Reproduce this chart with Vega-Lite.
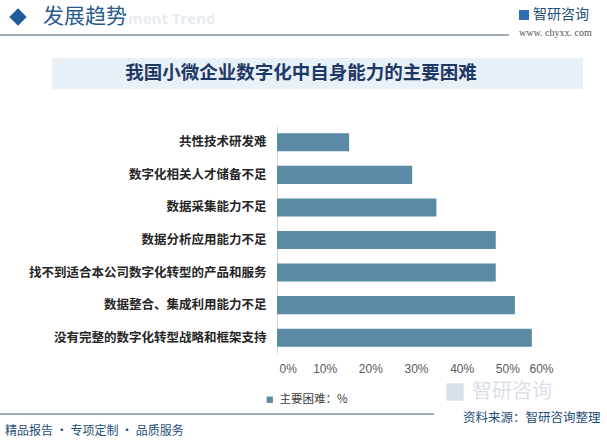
{
  "$schema": "https://vega.github.io/schema/vega-lite/v6.json",
  "width": 274,
  "height": 228,
  "autosize": {"type": "none"},
  "padding": {"left": 277, "top": 126, "right": 56, "bottom": 87},
  "background": "white",
  "config": {"view": {"stroke": null}, "font": "Noto Sans CJK SC"},
  "datasets": {
    "main": [
      {"item": "共性技术研发难", "value": 15.8, "series": "主要困难：%"},
      {"item": "数字化相关人才储备不足", "value": 29.6, "series": "主要困难：%"},
      {"item": "数据采集能力不足", "value": 34.9, "series": "主要困难：%"},
      {"item": "数据分析应用能力不足", "value": 47.9, "series": "主要困难：%"},
      {"item": "找不到适合本公司数字化转型的产品和服务", "value": 47.9, "series": "主要困难：%"},
      {"item": "数据整合、集成利用能力不足", "value": 52.1, "series": "主要困难：%"},
      {"item": "没有完整的数字化转型战略和框架支持", "value": 55.8, "series": "主要困难：%"}
    ]
  },
  "layer": [
    {
      "data": {"values": [{}]},
      "mark": {"type": "rect", "color": "#E8F0F8"},
      "encoding": {"x": {"value": -225}, "x2": {"value": 306}, "y": {"value": -68}, "y2": {"value": -37}}
    },
    {
      "data": {"values": [{}]},
      "mark": {"type": "text", "text": "我国小微企业数字化中自身能力的主要困难", "fontSize": 18.5, "fontWeight": "bold", "color": "#1F3864", "align": "center", "baseline": "middle"},
      "encoding": {"x": {"value": 24}, "y": {"value": -53}}
    },
    {
      "data": {"values": [{}]},
      "mark": {"type": "point", "shape": "diamond", "filled": true, "size": 300, "color": "#1F5C99", "opacity": 1},
      "encoding": {"x": {"value": -259}, "y": {"value": -109}}
    },
    {
      "data": {"values": [{}]},
      "mark": {"type": "text", "text": "ment Trend", "fontSize": 15, "fontWeight": "bold", "color": "#E8ECF1", "align": "left", "baseline": "middle", "font": "Open Sans"},
      "encoding": {"x": {"value": -149}, "y": {"value": -107}}
    },
    {
      "data": {"values": [{}]},
      "mark": {"type": "text", "text": "发展趋势", "fontSize": 21, "color": "#2A5B8C", "align": "left", "baseline": "middle"},
      "encoding": {"x": {"value": -234}, "y": {"value": -109}}
    },
    {
      "data": {"values": [{}]},
      "mark": {"type": "rule", "color": "#7E90A2", "strokeWidth": 1.5},
      "encoding": {"x": {"value": -277}, "x2": {"value": 232}, "y": {"value": -91}}
    },
    {
      "data": {"values": [{}]},
      "mark": {"type": "point", "shape": "square", "filled": true, "size": 100, "color": "#2F6EB5", "opacity": 1},
      "encoding": {"x": {"value": 247}, "y": {"value": -111}}
    },
    {
      "data": {"values": [{}]},
      "mark": {"type": "text", "text": "智研咨询", "fontSize": 14, "color": "#1F4E79", "align": "left", "baseline": "middle"},
      "encoding": {"x": {"value": 256}, "y": {"value": -111}}
    },
    {
      "data": {"values": [{}]},
      "mark": {"type": "text", "text": "www. chyxx. com", "fontSize": 10, "color": "#555555", "align": "left", "baseline": "middle", "font": "Liberation Serif"},
      "encoding": {"x": {"value": 242}, "y": {"value": -93}}
    },
    {
      "data": {"values": [{}]},
      "mark": {"type": "point", "shape": "square", "filled": true, "size": 300, "color": "#DAE0E7", "opacity": 1},
      "encoding": {"x": {"value": 178}, "y": {"value": 266}}
    },
    {
      "data": {"values": [{}]},
      "mark": {"type": "text", "text": "智研咨询", "fontSize": 20, "color": "#DAE0E7", "align": "left", "baseline": "middle"},
      "encoding": {"x": {"value": 195}, "y": {"value": 266}}
    },
    {
      "data": {"values": [{}]},
      "mark": {"type": "rule", "color": "#7E90A2", "strokeWidth": 1.5},
      "encoding": {"x": {"value": -277}, "x2": {"value": 157}, "y": {"value": 288}}
    },
    {
      "data": {"values": [{}]},
      "mark": {"type": "text", "text": "资料来源：智研咨询整理", "fontSize": 12.5, "color": "#1F4E79", "align": "left", "baseline": "middle"},
      "encoding": {"x": {"value": 186}, "y": {"value": 292}}
    },
    {
      "data": {"values": [{}]},
      "mark": {"type": "text", "text": "精品报告 · 专项定制 · 品质服务", "fontSize": 12, "color": "#1F4E79", "align": "left", "baseline": "middle"},
      "encoding": {"x": {"value": -272}, "y": {"value": 305}}
    },
    {
      "data": {"name": "main"},
      "mark": {"type": "bar"},
      "encoding": {
        "y": {
          "field": "item", "type": "nominal",
          "sort": ["共性技术研发难", "数字化相关人才储备不足", "数据采集能力不足", "数据分析应用能力不足", "找不到适合本公司数字化转型的产品和服务", "数据整合、集成利用能力不足", "没有完整的数字化转型战略和框架支持"],
          "scale": {"paddingInner": 0.446, "paddingOuter": 0.223},
          "axis": {"title": null, "domainColor": "#D9D9D9", "ticks": false, "labelFontSize": 12.5, "labelFontWeight": "bold", "labelColor": "#262626", "labelPadding": 11, "labelLimit": 320}
        },
        "x": {
          "field": "value", "type": "quantitative",
          "scale": {"domain": [0, 60], "nice": false},
          "axis": {"title": null, "values": [0, 10, 20, 30, 40, 50, 60], "labelExpr": "datum.value + '%'", "domain": false, "ticks": false, "grid": false, "labelFontSize": 12, "labelColor": "#595959", "labelPadding": 9, "labelOffset": 2, "labelFont": "Liberation Sans", "labelOverlap": false}
        },
        "color": {
          "field": "series", "type": "nominal",
          "scale": {"range": ["#5A8AA5"]},
          "legend": {"title": null, "orient": "none", "legendX": -13, "legendY": 268, "symbolType": "square", "symbolSize": 40, "labelFontSize": 11.5, "labelColor": "#404040", "labelFont": "Noto Sans CJK SC"}
        }
      }
    }
  ]
}
